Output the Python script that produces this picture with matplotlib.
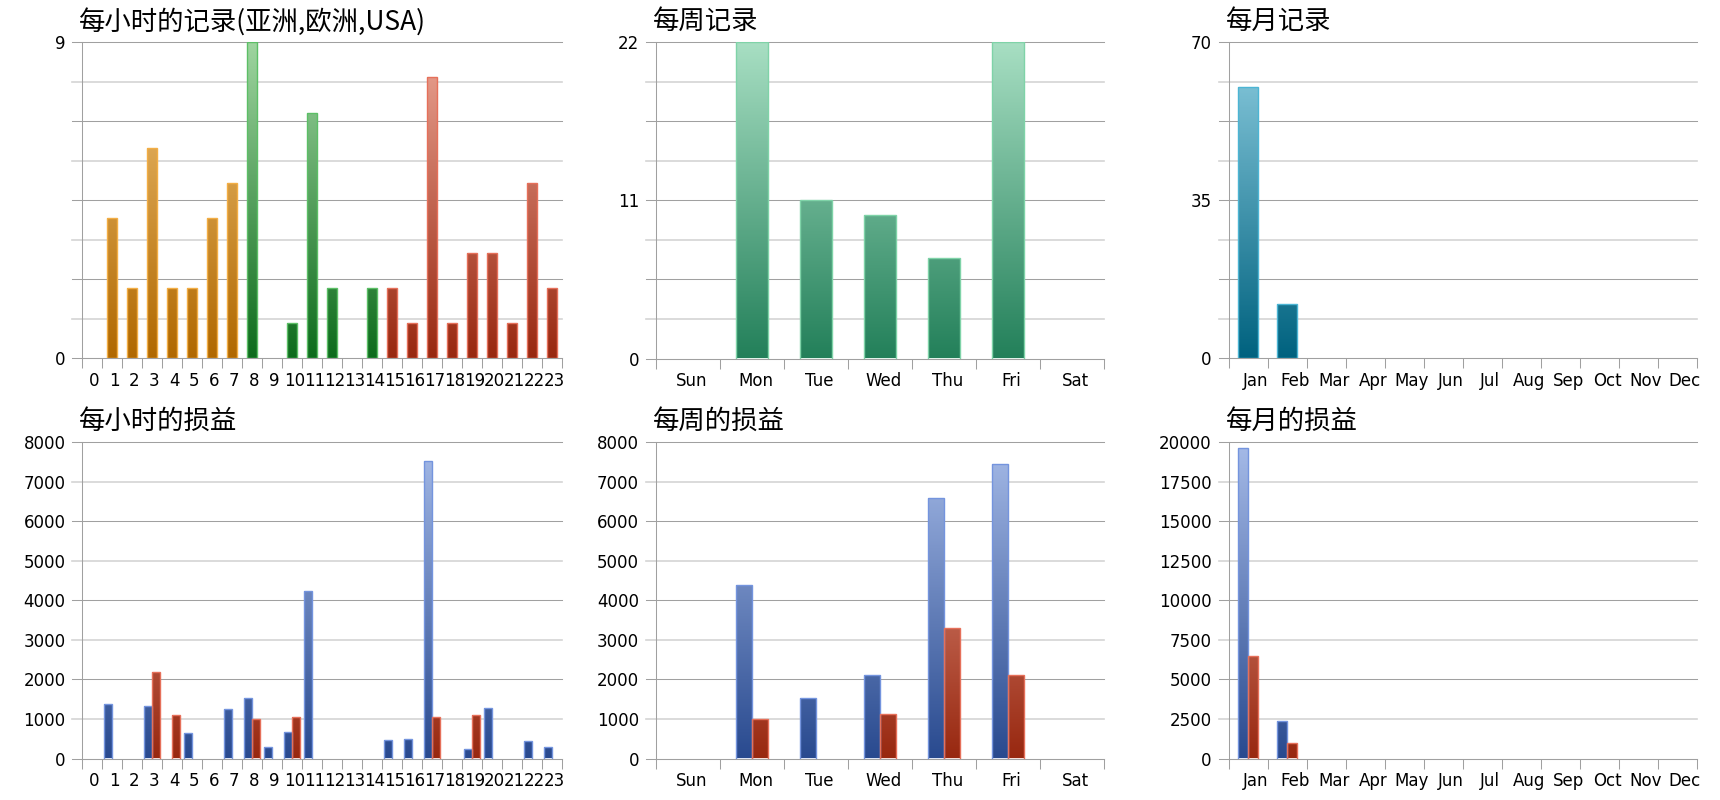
import numpy as np
import matplotlib
matplotlib.use('Agg')
import matplotlib.pyplot as plt
from matplotlib.colors import LinearSegmentedColormap
from matplotlib.transforms import ScaledTranslation

plt.rcParams['font.family'] = ['DejaVu Sans']
TITLE_FONT = ['Noto Sans CJK SC', 'DejaVu Sans']

# categories
hours = [str(h) for h in range(24)]
weekdays = ['Sun', 'Mon', 'Tue', 'Wed', 'Thu', 'Fri', 'Sat']
months = ['Jan', 'Feb', 'Mar', 'Apr', 'May', 'Jun', 'Jul', 'Aug', 'Sep', 'Oct', 'Nov', 'Dec']

# hourly records, split by region (asia 0-7, europe 8-14, usa 15-23)
records_asia = [0, 4, 2, 6, 2, 2, 4, 5]
records_europe = [9, 0, 1, 7, 2, 0, 2]
records_usa = [2, 1, 8, 1, 3, 3, 1, 5, 2]
weekly_records = [0, 22, 11, 10, 7, 22, 0]
monthly_records = [60, 12, 0, 0, 0, 0, 0, 0, 0, 0, 0, 0]

# profit / loss (blue / red)
hourly_gain = [0, 1370, 0, 1330, 0, 640, 0, 1260, 1520, 280, 670, 4240,
               0, 0, 0, 460, 500, 7530, 0, 230, 1280, 0, 450, 280]
hourly_loss = [0, 0, 0, 2200, 1110, 0, 0, 0, 1000, 0, 1050, 0,
               0, 0, 0, 0, 0, 1050, 0, 1100, 0, 0, 0, 0]
weekly_gain = [0, 4400, 1530, 2100, 6600, 7440, 0]
weekly_loss = [0, 1000, 0, 1120, 3300, 2100, 0]
monthly_gain = [19660, 2400, 0, 0, 0, 0, 0, 0, 0, 0, 0, 0]
monthly_loss = [6500, 1000, 0, 0, 0, 0, 0, 0, 0, 0, 0, 0]

DARK = '#a0a0a0'
LIGHT = '#d4d4d4'

ORANGE = ('#b06800', '#f2c57a', '#f3ae45')
GREEN = ('#0d6b1c', '#9fd5a0', '#5cbf66')
RED = ('#982810', '#eca595', '#e6705a')
TEAL = ('#23805a', '#a8dfc3', '#7fd3a8')
CYAN = ('#00627f', '#8dcde0', '#4cb5d4')
BLUE = ('#294a8f', '#a6bbe8', '#7494de')

fig = plt.figure(figsize=(17.2, 8), dpi=100)


def make_axes(x0, x1, ytop, ybot):
    return fig.add_axes([x0 / 1720, (800 - ybot) / 800, (x1 - x0) / 1720, (ybot - ytop) / 800])


def gradient_bars(ax, x, vals, width, ymax, colors):
    cmap = LinearSegmentedColormap.from_list('grad', [colors[0], colors[1]])
    bars = ax.bar(x, vals, width, color='none', edgecolor=colors[2], linewidth=1.0, zorder=3)
    for b in bars:
        h = b.get_height()
        if h <= 0:
            b.set_visible(False)
            continue
        x0 = b.get_x()
        grad = np.linspace(0, h / ymax, 200).reshape(-1, 1)
        im = ax.imshow(grad, cmap=cmap, vmin=0, vmax=1, origin='lower',
                       extent=[x0, x0 + b.get_width(), 0, h], aspect='auto',
                       interpolation='bilinear', zorder=2)
        im.set_clip_path(b)


def setup(ax, labels, ymax, ylabels, title, xoff, axw):
    n = len(labels)
    ax.set_xlim(-0.5, n - 0.5)
    ax.set_ylim(0, ymax)
    for s in ['top', 'right']:
        ax.spines[s].set_visible(False)
    for s in ['left', 'bottom']:
        ax.spines[s].set_color(DARK)
        ax.spines[s].set_linewidth(0.75)
    ext = -10 / axw
    for i, lv in enumerate(np.linspace(0, ymax, 9)):
        if i % 2 == 0:
            ax.axhline(lv, xmin=ext, xmax=1, color=DARK, lw=0.75, clip_on=False, zorder=1)
        else:
            ax.axhline(lv, xmin=ext, xmax=1, color=LIGHT, lw=1.2, clip_on=False, zorder=1)
    ax.set_xticks(np.arange(n))
    ax.set_xticklabels(labels, fontsize=12)
    ax.set_xticks(np.arange(n + 1) - 0.5, minor=True)
    ax.tick_params(axis='x', which='major', length=0, pad=10)
    ax.tick_params(axis='x', which='minor', length=7.2, width=0.75, color=DARK)
    ax.set_yticks(ylabels)
    ax.set_yticklabels([str(v) for v in ylabels], fontsize=12)
    ax.tick_params(axis='y', length=0, pad=12)
    shift = ScaledTranslation(xoff / 100, 0, fig.dpi_scale_trans)
    for lab in ax.get_xticklabels():
        lab.set_transform(lab.get_transform() + shift)
    ax.text(0, 1, title, transform=ax.transAxes + ScaledTranslation(-3 / 100, 21 / 100, fig.dpi_scale_trans),
            ha='left', va='center', fontsize=19, family=TITLE_FONT)


# top left: hourly records
ax = make_axes(82.3, 562.3, 42.3, 358.3)
x = np.arange(24)
gradient_bars(ax, x[:8], records_asia, 0.5, 9, ORANGE)
gradient_bars(ax, x[8:15], records_europe, 0.5, 9, GREEN)
gradient_bars(ax, x[15:], records_usa, 0.5, 9, RED)
setup(ax, hours, 9, [0, 9], '每小时的记录(亚洲,欧洲,USA)', 2, 480)

# top middle: weekly records
ax = make_axes(655.7, 1103.7, 42.3, 358.5)
gradient_bars(ax, np.arange(7), weekly_records, 0.5, 22, TEAL)
setup(ax, weekdays, 22, [0, 11, 22], '每周记录', 4, 448)

# top right: monthly records
ax = make_axes(1228.5, 1696.5, 42.3, 358.3)
gradient_bars(ax, np.arange(12), monthly_records, 0.5, 70, CYAN)
setup(ax, months, 70, [0, 35, 70], '每月记录', 8, 468)

# bottom left: hourly profit
ax = make_axes(82.3, 562.3, 442.3, 758.5)
gradient_bars(ax, x - 0.2, hourly_gain, 0.4, 8000, BLUE)
gradient_bars(ax, x + 0.2, hourly_loss, 0.4, 8000, RED)
setup(ax, hours, 8000, list(range(0, 8001, 1000)), '每小时的损益', 2, 480)

# bottom middle: weekly profit
ax = make_axes(655.7, 1103.7, 442.3, 758.5)
xw = np.arange(7)
gradient_bars(ax, xw - 0.125, weekly_gain, 0.25, 8000, BLUE)
gradient_bars(ax, xw + 0.125, weekly_loss, 0.25, 8000, RED)
setup(ax, weekdays, 8000, list(range(0, 8001, 1000)), '每周的损益', 4, 448)

# bottom right: monthly profit
ax = make_axes(1228.5, 1696.5, 442.3, 758.5)
xm = np.arange(12)
gradient_bars(ax, xm - 0.125, monthly_gain, 0.25, 20000, BLUE)
gradient_bars(ax, xm + 0.125, monthly_loss, 0.25, 20000, RED)
setup(ax, months, 20000, list(range(0, 20001, 2500)), '每月的损益', 8, 468)

fig.savefig('out.png', dpi=100)
